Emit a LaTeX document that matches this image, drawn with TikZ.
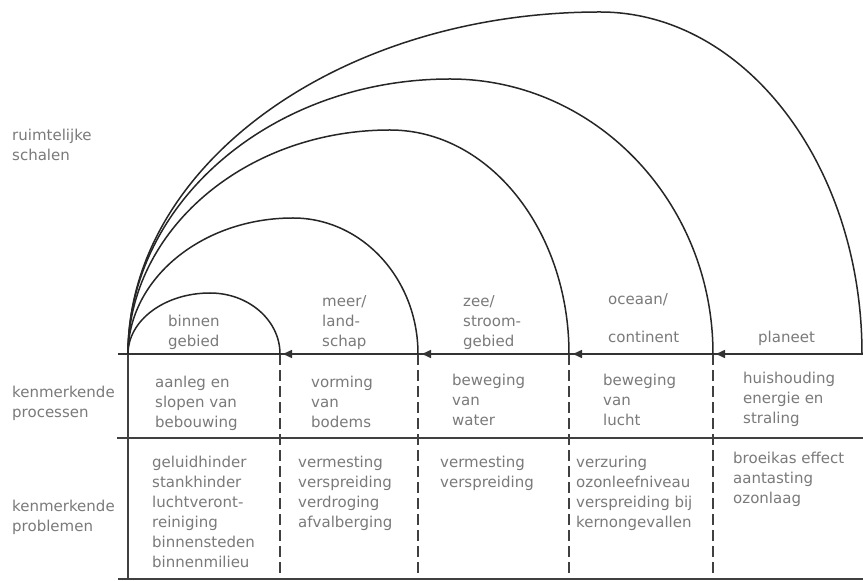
\documentclass[tikz,border=0pt]{standalone}
\usepackage{fontspec}
\setmainfont{DejaVu Sans}
\usetikzlibrary{arrows.meta}
\definecolor{txtgray}{gray}{0.48}
\definecolor{linegray}{gray}{0.25}
\tikzset{
  lbl/.style={font=\fontsize{15}{20}\selectfont, text=txtgray, align=left, inner sep=0pt, anchor=north west},
  arcline/.style={draw=black!85, line width=1.5pt},
  mainline/.style={draw=black!80, line width=1.5pt},
  tabline/.style={draw=linegray, line width=1.2pt},
  dashline/.style={draw=linegray, line width=1.1pt, dash pattern=on 11pt off 5pt},
  tipline/.style={draw=black!80, line width=1.5pt, -{Triangle[length=9pt,width=8pt]}}
}
\begin{document}
\begin{tikzpicture}[x=1pt,y=1pt]
\fill[white] (0,0) rectangle (863,581);
\useasboundingbox (0,0) rectangle (863,581);
% coordinates
\coordinate (e0) at (118,227);
\coordinate (v0) at (128,227);
\coordinate (e1) at (280,227);
\coordinate (e2) at (418,227);
\coordinate (e3) at (569,227);
\coordinate (e4) at (713,227);
\coordinate (e5) at (863,227);
\coordinate (t1) at (283,227);
\coordinate (t2) at (422,227);
\coordinate (t3) at (573,227);
\coordinate (t4) at (716,227);
\coordinate (m0) at (117,143);
\coordinate (m5) at (863,143);
\coordinate (b0) at (118,2);
\coordinate (b5) at (863,2);
\coordinate (vb) at (128,2);
\coordinate (d1) at (280,2);
\coordinate (d2) at (418,2);
\coordinate (d3) at (569,2);
\coordinate (d4) at (713,2);
% table lines
\draw[tabline] (m0) -- (m5);
\draw[tabline] (b0) -- (b5);
\draw[tabline] (v0) -- (vb);
\draw[dashline] (e1) -- (d1);
\draw[dashline] (e2) -- (d2);
\draw[dashline] (e3) -- (d3);
\draw[dashline] (e4) -- (d4);
% main line and arrows
\draw[mainline] (e0) -- (e5);
\draw[tipline] (e2) -- (t1);
\draw[tipline] (e3) -- (t2);
\draw[tipline] (e4) -- (t3);
\draw[tipline] (e5) -- (t4);
% arcs
\draw[arcline] (v0) arc[start angle=180,end angle=90,x radius=82,y radius=61]
  arc[start angle=90,end angle=0,x radius=70,y radius=61];
\draw[arcline] (v0) arc[start angle=180,end angle=90,x radius=165,y radius=136]
  arc[start angle=90,end angle=0,x radius=125,y radius=136];
\draw[arcline] (v0) arc[start angle=180,end angle=90,x radius=262,y radius=224]
  arc[start angle=90,end angle=0,x radius=179,y radius=224];
\draw[arcline] (v0) arc[start angle=180,end angle=90,x radius=322,y radius=275]
  arc[start angle=90,end angle=0,x radius=263,y radius=275];
\draw[arcline] (v0) arc[start angle=180,end angle=90,x radius=472,y radius=342]
  arc[start angle=90,end angle=0,x radius=262,y radius=342];
% left labels
\node[lbl] (rs) at (12,455) {\strut ruimtelijke\\schalen};
\node[lbl] (kp) at (12,198) {\strut kenmerkende\\processen};
\node[lbl] (kb) at (12,84) {\strut kenmerkende\\problemen};
% scale labels
\node[lbl] (s1) at (168,269) {\strut binnen\\gebied};
\node[lbl] (s2) at (322,289) {\strut meer/\\land-\\schap};
\node[lbl] (s3) at (463,289) {\strut zee/\\stroom-\\gebied};
\node[lbl] (s4) at (608,291) {\strut oceaan/\\[18pt]continent};
\node[lbl] (s5) at (758,253) {\strut planeet};
% processes
\node[lbl] (p1) at (155,208) {\strut aanleg en\\slopen van\\bebouwing};
\node[lbl] (p2) at (311,208) {\strut vorming\\van\\bodems};
\node[lbl] (p3) at (452,210) {\strut beweging\\van\\water};
\node[lbl] (p4) at (603,210) {\strut beweging\\van\\lucht};
\node[lbl] (p5) at (743,212) {\strut huishouding\\energie en\\straling};
% problems
\node[lbl] (q1) at (152,128) {\strut geluidhinder\\stankhinder\\luchtveront-\\reiniging\\binnensteden\\binnenmilieu};
\node[lbl] (q2) at (298,128) {\strut vermesting\\verspreiding\\verdroging\\afvalberging};
\node[lbl] (q3) at (440,128) {\strut vermesting\\verspreiding};
\node[lbl] (q4) at (576,128) {\strut verzuring\\ozonleefniveau\\verspreiding bij\\kernongevallen};
\node[lbl] (q5) at (733,132) {\strut broeikas effect\\aantasting\\ozonlaag};
\end{tikzpicture}
\end{document}
